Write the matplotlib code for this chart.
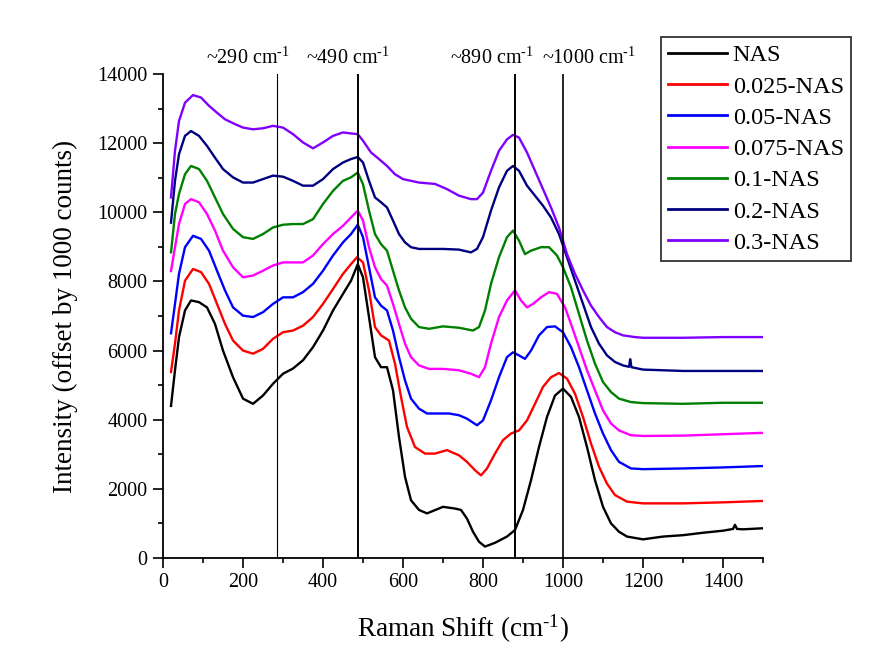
import matplotlib
matplotlib.use('Agg')
import matplotlib.pyplot as plt

plt.rcParams['font.family'] = ['Liberation Serif', 'DejaVu Serif']
plt.rcParams['mathtext.fontset'] = 'custom'
plt.rcParams['mathtext.rm'] = 'Liberation Serif'
plt.rcParams['mathtext.default'] = 'regular'

# Raman spectra (offset by 1000 counts each)
x_nas = [20, 30, 40, 55, 70, 90, 110, 130, 150, 175, 200, 225, 250, 275, 300, 325, 350, 375, 400, 425,
         450, 470, 487, 500, 515, 530, 545, 560, 575, 590, 605, 620, 640, 660, 700, 730, 745, 760, 775, 790,
         805, 830, 860, 880, 900, 920, 940, 960, 980, 1000, 1020, 1040, 1060, 1080, 1100, 1120, 1140, 1160, 1200, 1250,
         1300, 1350, 1400, 1425, 1430, 1435, 1450, 1500]
y_nas = [4400, 5430, 6390, 7160, 7450, 7400, 7250, 6770, 6000, 5230, 4610, 4460, 4700, 5040, 5330, 5480, 5720, 6100, 6580, 7160,
         7640, 8020, 8500, 8120, 6970, 5810, 5520, 5520, 4850, 3500, 2350, 1670, 1390, 1290, 1480, 1430, 1390, 1140, 760, 470,
         330, 440, 620, 810, 1390, 2250, 3210, 4080, 4700, 4900, 4660, 4080, 3210, 2250, 1480, 1000, 760, 620, 540, 620,
         660, 730, 790, 840, 960, 840, 830, 860]

x_025 = [20, 30, 40, 55, 75, 95, 115, 135, 155, 175, 200, 225, 250, 275, 300, 325, 350, 375, 400, 425,
         450, 470, 485, 500, 515, 530, 545, 565, 580, 595, 610, 630, 655, 680, 710, 740, 760, 780, 795, 810,
         830, 850, 870, 890, 910, 930, 950, 970, 990, 1010, 1030, 1050, 1070, 1090, 1110, 1130, 1160, 1200, 1300, 1400,
         1500]
y_025 = [5380, 6200, 7160, 8020, 8360, 8270, 7930, 7350, 6770, 6290, 6000, 5910, 6050, 6340, 6530, 6580, 6720, 6970, 7350, 7780,
         8220, 8500, 8700, 8550, 7740, 6680, 6440, 6290, 5620, 4660, 3790, 3210, 3020, 3020, 3120, 2970, 2780, 2540, 2390, 2590,
         3020, 3410, 3600, 3690, 3980, 4460, 4950, 5230, 5350, 5190, 4750, 4080, 3310, 2640, 2150, 1820, 1630, 1580, 1580, 1610,
         1650]

x_05 = [20, 30, 40, 55, 75, 95, 115, 135, 155, 175, 200, 225, 250, 275, 300, 325, 350, 375, 400, 425,
        450, 470, 487, 500, 515, 530, 545, 560, 575, 590, 605, 620, 640, 660, 690, 715, 740, 760, 785, 800,
        820, 840, 860, 875, 890, 905, 920, 940, 960, 980, 1000, 1020, 1040, 1060, 1080, 1100, 1120, 1140, 1170, 1200,
        1300, 1400, 1500]
y_05 = [6500, 7350, 8220, 8990, 9320, 9230, 8890, 8310, 7740, 7250, 7010, 6970, 7110, 7350, 7540, 7540, 7690, 7930, 8310, 8750,
        9130, 9370, 9640, 9280, 8410, 7540, 7300, 7160, 6580, 5810, 5140, 4610, 4320, 4180, 4180, 4180, 4130, 4030, 3840, 3980,
        4560, 5230, 5810, 5950, 5860, 5760, 6000, 6440, 6680, 6700, 6530, 6100, 5520, 4850, 4180, 3600, 3120, 2780, 2590, 2570,
        2590, 2620, 2660]

x_075 = [20, 30, 40, 55, 70, 90, 110, 130, 150, 175, 200, 225, 250, 275, 300, 325, 350, 375, 400, 425,
         450, 470, 487, 500, 515, 530, 545, 560, 575, 590, 605, 620, 640, 665, 700, 740, 770, 790, 805, 820,
         840, 860, 880, 895, 910, 925, 945, 965, 985, 1005, 1020, 1040, 1060, 1080, 1100, 1120, 1140, 1170, 1200, 1300,
         1400, 1500]
y_075 = [8300, 8990, 9660, 10240, 10380, 10290, 9950, 9470, 8890, 8410, 8120, 8170, 8310, 8460, 8550, 8550, 8550, 8750, 9080, 9370,
         9610, 9850, 10050, 9760, 8990, 8410, 8070, 7880, 7350, 6770, 6200, 5810, 5570, 5470, 5470, 5430, 5330, 5230, 5520, 6200,
         6970, 7450, 7740, 7450, 7250, 7350, 7540, 7690, 7640, 7250, 6770, 6100, 5430, 4850, 4270, 3890, 3690, 3550, 3530, 3540,
         3580, 3620]

x_1 = [20, 30, 40, 55, 70, 90, 110, 130, 150, 175, 200, 225, 250, 275, 300, 325, 350, 375, 400, 425,
       450, 470, 487, 500, 515, 530, 545, 560, 575, 590, 605, 620, 640, 665, 700, 740, 775, 790, 805, 820,
       840, 860, 875, 890, 905, 920, 945, 965, 985, 1000, 1020, 1040, 1060, 1080, 1100, 1120, 1140, 1170, 1200, 1300,
       1400, 1500]
y_1 = [8840, 9950, 10530, 11100, 11340, 11250, 10910, 10430, 9950, 9520, 9280, 9230, 9370, 9560, 9640, 9660, 9660, 9800, 10240, 10620,
       10910, 11010, 11150, 10810, 10050, 9370, 9080, 8890, 8310, 7740, 7250, 6920, 6680, 6630, 6700, 6660, 6580, 6680, 7160, 7930,
       8700, 9280, 9470, 9180, 8790, 8890, 8990, 8990, 8750, 8410, 7830, 7060, 6290, 5620, 5090, 4800, 4610, 4510, 4480, 4460,
       4490, 4490]

x_2 = [20, 30, 40, 55, 70, 90, 110, 130, 150, 175, 200, 225, 250, 275, 300, 325, 350, 375, 400, 425,
       450, 470, 487, 500, 515, 530, 545, 560, 575, 590, 605, 620, 640, 665, 700, 740, 770, 785, 800, 820,
       840, 860, 875, 890, 910, 930, 950, 970, 990, 1010, 1030, 1050, 1070, 1090, 1110, 1130, 1150, 1165, 1168, 1171,
       1200, 1300, 1400, 1500]
y_2 = [9700, 10910, 11680, 12210, 12350, 12210, 11920, 11580, 11250, 11010, 10860, 10860, 10960, 11060, 11030, 10910, 10770, 10770, 10960, 11250,
       11440, 11540, 11600, 11440, 10910, 10430, 10290, 10140, 9760, 9370, 9130, 8990, 8940, 8940, 8940, 8920, 8840, 8940, 9280, 10050,
       10720, 11200, 11340, 11200, 10770, 10480, 10190, 9850, 9370, 8700, 8020, 7350, 6680, 6200, 5860, 5670, 5570, 5530, 5750, 5520,
       5450, 5410, 5410, 5410]

x_3 = [20, 30, 40, 55, 75, 95, 115, 135, 155, 180, 200, 225, 250, 275, 300, 325, 350, 375, 400, 425,
       450, 470, 487, 500, 520, 540, 560, 580, 600, 640, 680, 710, 740, 770, 785, 800, 820, 840, 860, 875,
       890, 910, 930, 950, 970, 990, 1010, 1030, 1050, 1070, 1090, 1110, 1130, 1150, 1180, 1200, 1300, 1400, 1500]
y_3 = [10430, 11780, 12640, 13170, 13390, 13320, 13080, 12880, 12690, 12550, 12450, 12400, 12430, 12500, 12450, 12260, 12020, 11850, 12020, 12210,
       12310, 12280, 12260, 12070, 11730, 11540, 11340, 11100, 10960, 10860, 10820, 10670, 10480, 10380, 10380, 10570, 11200, 11780, 12110, 12240,
       12160, 11730, 11200, 10670, 10140, 9560, 8790, 8220, 7740, 7300, 6970, 6680, 6530, 6440, 6390, 6370, 6370, 6390, 6390]

labels = ['NAS', '0.025-NAS', '0.05-NAS', '0.075-NAS', '0.1-NAS', '0.2-NAS', '0.3-NAS']
colors = ['#000000', '#FF0000', '#0000FF', '#FF00FF', '#008000', '#000080', '#8000FF']

peak_pos = [285, 487, 880, 1000]
peak_lw = [0.8, 1.4, 1.4, 1.2]
peak_text = ['~290 cm$^{\\text{-}1}$', '~490 cm$^{\\text{-}1}$', '~890 cm$^{\\text{-}1}$', '~1000 cm$^{\\text{-}1}$']
peak_text_x = [212, 462, 822, 1065]

fig = plt.figure(figsize=(8.7, 6.65), dpi=100)
ax = fig.add_axes([163 / 870, 1 - 558 / 665, 600 / 870, 484 / 665])

xs = [x_nas, x_025, x_05, x_075, x_1, x_2, x_3]
ys = [y_nas, y_025, y_05, y_075, y_1, y_2, y_3]
for xx, yy, lab, c in zip(xs, ys, labels, colors):
    ax.plot(xx, yy, color=c, lw=1.7, label=lab)

# 峰位竖线和标注
for p, lw, t, tx in zip(peak_pos, peak_lw, peak_text, peak_text_x):
    ax.axvline(p, color='black', lw=lw, zorder=5)
    ax.text(tx, 14470, t, ha='center', va='center', fontsize=14.5, clip_on=False)

ax.set_xlim(0, 1500)
ax.set_ylim(0, 14000)
ax.set_xticks(range(0, 1501, 200))
ax.set_xticks(range(100, 1501, 200), minor=True)
ax.set_yticks(range(0, 14001, 2000))
ax.set_yticks(range(1000, 14000, 2000), minor=True)
ax.tick_params(which='major', direction='out', length=7, width=1.2, labelsize=14.5, pad=4)
ax.tick_params(which='minor', direction='out', length=3.5, width=1.2)
ax.spines['top'].set_visible(False)
ax.spines['right'].set_visible(False)
ax.spines['left'].set_linewidth(1.3)
ax.spines['bottom'].set_linewidth(1.3)

ax.set_xlabel('Raman Shift (cm$^{\\text{-}1}$)', fontsize=19.5, labelpad=15)
ax.set_ylabel('Intensity (offset by 1000 counts)', fontsize=19.5, labelpad=14)

leg = ax.legend(loc='upper left', bbox_to_anchor=(661 / 870, 1 - 37 / 665), bbox_transform=fig.transFigure,
                fontsize=17.5, frameon=True, fancybox=False, borderaxespad=0, borderpad=0.3,
                handlelength=2.4, handletextpad=0.25, labelspacing=0.38)
leg.get_frame().set_edgecolor('black')
leg.get_frame().set_linewidth(1.3)
for line in leg.get_lines():
    line.set_linewidth(2)

fig.savefig('out.png', dpi=100)
